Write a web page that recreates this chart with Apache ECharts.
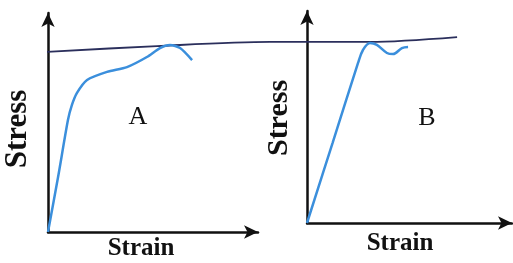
<!DOCTYPE html>
<html>
<head>
<meta charset="utf-8">
<script src="https://cdn.jsdelivr.net/npm/echarts@6/dist/echarts.min.js"></script>
<style>
  html, body { margin: 0; padding: 0; background: #fff; }
  #chart { width: 513px; height: 263px; }
</style>
</head>
<body>
<div id="chart"></div>
<script>
// curve A (ductile), [strain, stress] in panel units 0..10
const curveA = [
  [0, 0], [0.48, 2.51], [0.95, 5.11], [1.14, 5.8], [1.38, 6.35], [1.86, 6.94],
  [2.81, 7.31], [3.76, 7.53], [4.71, 7.99], [5.33, 8.4], [5.81, 8.54],
  [6.29, 8.4], [6.86, 7.85]
];
// curve B (brittle)
const curveB = [
  [0, 0], [1.25, 3.78], [2.49, 7.55], [2.73, 8.16], [3.07, 8.49], [3.41, 8.4],
  [3.9, 8.02], [4.2, 7.97], [4.63, 8.25], [4.93, 8.3]
];
// hand-drawn reference line across both panels (in panel A units, x up to 20)
const refLine = [
  [-0.1, 8.22], [5.19, 8.49], [10.57, 8.68], [12.24, 8.68], [15.33, 8.68], [19.48, 8.9]
];
const panelLabels = ['A', 'B'];
const xName = 'Strain';
const yName = 'Stress';

const chart = echarts.init(document.getElementById('chart'));

const font = 'Liberation Serif';
const blue = '#3b8fdc';
const ink = '#111';

function xAxisFor(i, max, visible) {
  return {
    type: 'value', gridIndex: i, min: 0, max: max, show: visible,
    axisLine: { lineStyle: { color: ink, width: 2.5 }, symbol: ['none', 'arrow'], symbolSize: [10, 14] },
    axisTick: { show: false }, axisLabel: { show: false }, splitLine: { show: false }
  };
}
function yAxisFor(i, visible) {
  return {
    type: 'value', gridIndex: i, min: 0, max: 10, show: visible,
    axisLine: { lineStyle: { color: ink, width: 2.5 }, symbol: ['none', 'arrow'], symbolSize: [10, 14] },
    axisTick: { show: false }, axisLabel: { show: false }, splitLine: { show: false }
  };
}

function label(text, x, y, size, bold, rotate) {
  return {
    type: 'text', x: x, y: y, rotation: rotate ? Math.PI / 2 : 0,
    style: {
      text: text, fontFamily: font, fontSize: size, fontWeight: bold ? 'bold' : 'normal',
      fill: ink, align: 'center', verticalAlign: 'middle'
    }
  };
}

chart.setOption({
  backgroundColor: '#fff',
  animation: false,
  grid: [
    { left: 48, top: 13, width: 210, height: 219 },
    { left: 307, top: 11, width: 205, height: 212 },
    // overlay grid for the reference line, same scale as panel A
    { left: 48, top: 13, width: 420, height: 219 }
  ],
  xAxis: [xAxisFor(0, 10, true), xAxisFor(1, 10, true), xAxisFor(2, 20, false)],
  yAxis: [yAxisFor(0, true), yAxisFor(1, true), yAxisFor(2, false)],
  graphic: [
    label(yName, 18, 129, 31, true, true),
    label(yName, 279, 118, 30, true, true),
    label(xName, 141, 249, 25, true, false),
    label(xName, 400, 244, 25, true, false),
    label(panelLabels[0], 138, 117, 26, false, false),
    label(panelLabels[1], 427, 118, 26, false, false)
  ],
  series: [
    {
      type: 'line', xAxisIndex: 2, yAxisIndex: 2, data: refLine,
      showSymbol: false, smooth: 0.3, lineStyle: { color: '#2b2f5c', width: 1.8 }, z: 1
    },
    {
      type: 'line', xAxisIndex: 0, yAxisIndex: 0, data: curveA,
      showSymbol: false, smooth: 0.25, lineStyle: { color: blue, width: 2.5 }, z: 2
    },
    {
      type: 'line', xAxisIndex: 1, yAxisIndex: 1, data: curveB,
      showSymbol: false, smooth: 0.35, lineStyle: { color: blue, width: 2.5 }, z: 2
    }
  ]
});
</script>
</body>
</html>
